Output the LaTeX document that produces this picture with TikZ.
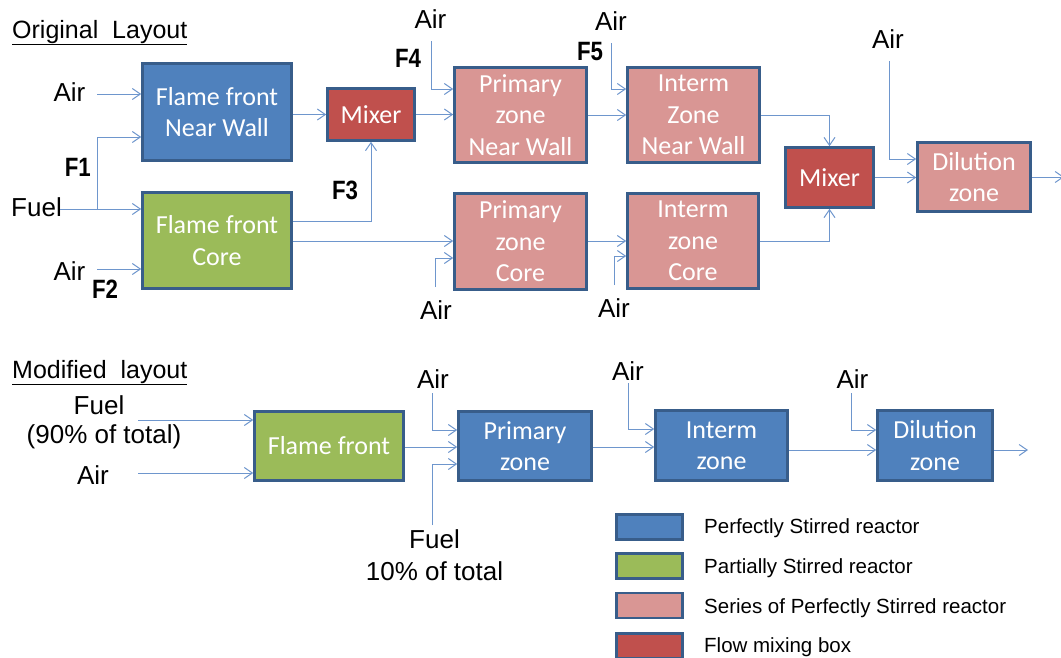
\documentclass[tikz,border=0pt]{standalone}
\usepackage{fontspec}
\usepackage{graphicx}
\setmainfont{Liberation Sans}
\newfontfamily\boxfont{Carlito}
\usetikzlibrary{arrows.meta}
\definecolor{psr}{RGB}{79,129,189}
\definecolor{pasr}{RGB}{155,187,89}
\definecolor{spsr}{RGB}{217,150,148}
\definecolor{mixc}{RGB}{192,80,77}
\definecolor{edgec}{RGB}{56,93,138}
\definecolor{flowc}{RGB}{110,150,205}
\newcommand{\fl}[1]{\scalebox{0.84}[1]{#1}}
\begin{document}
\begin{tikzpicture}[x=1pt,y=-1pt,
  box/.style={draw=edgec,line width=2.6pt,text=white,align=center,inner sep=0pt,
    font=\boxfont\fontsize{26}{31.5}\selectfont},
  flow/.style={draw=flowc,line width=1pt,-{Straight Barb[length=8pt,width=11pt]}},
  lab/.style={font=\fontsize{26}{31}\selectfont,inner sep=0pt},
  flab/.style={font=\bfseries\fontsize{26.5}{30}\selectfont,inner sep=0pt},
  ttl/.style={font=\fontsize{25}{30}\selectfont,inner sep=0pt,anchor=base west},
  leg/.style={font=\fontsize{20.5}{24}\selectfont,anchor=base west,inner sep=0pt},
  legbox/.style={draw=edgec,line width=2.6pt,minimum width=66pt,minimum height=25pt,inner sep=0pt}]
\useasboundingbox[fill=white] (0,0) rectangle (1061,657);

% ---------------- Original layout ----------------
\node[ttl] (t1) at (12,38) {\underline{Original\ \ Layout}};

\node[box,fill=psr,minimum width=149pt,minimum height=97pt] (ffnw) at (217,112) {Flame front\\Near Wall};
\node[box,fill=mixc,minimum width=87pt,minimum height=52pt] (mix1) at (371,114.5) {Mixer};
\node[box,fill=pasr,minimum width=149pt,minimum height=96pt] (ffc) at (217,240.5) {Flame front\\Core};
\node[box,fill=spsr,minimum width=132pt,minimum height=95pt] (pznw) at (520.5,115) {Primary\\zone\\Near Wall};
\node[box,fill=spsr,minimum width=132pt,minimum height=95pt] (iznw) at (693.5,115) {Interm\\Zone\\Near Wall};
\node[box,fill=spsr,minimum width=132pt,minimum height=96pt] (pzc) at (520.5,241.5) {Primary\\zone\\Core};
\node[box,fill=spsr,minimum width=131pt,minimum height=95pt] (izc) at (693,241) {Interm\\zone\\Core};
\node[box,fill=mixc,minimum width=88pt,minimum height=60pt] (mix2) at (829.5,177.5) {Mixer};
\node[box,fill=spsr,minimum width=113pt,minimum height=69pt] (dil1) at (974,177) {Dilution\\zone};

\node[lab] (air1) at (69.5,92.5) {Air};
\node[lab] (fuel1) at (36.5,207) {Fuel};
\node[flab] (F1) at (77.8,167) {\fl{F1}};
\node[lab] (air2) at (69.5,271) {Air};
\node[flab] (F2) at (105,289) {\fl{F2}};
\node[flab] (F3) at (345,190) {\fl{F3}};
\node[flab] (F4) at (408,58) {\fl{F4}};
\node[lab] (air4) at (430.5,19.5) {Air};
\node[flab] (F5) at (590,52) {\fl{F5}};
\node[lab] (air5) at (611,21) {Air};
\node[lab] (air8) at (888,39) {Air};
\node[lab] (air6) at (436,310) {Air};
\node[lab] (air7) at (614,308) {Air};

\coordinate (a1) at (97,94);
\coordinate (f1) at (60,209);
\coordinate (br) at (97,209);
\coordinate (a2) at (97,269);
\coordinate (a4) at (431,41);
\coordinate (a5) at (611,43);
\coordinate (a6) at (435,287);
\coordinate (a7) at (614,285);
\coordinate (a8) at (889,61);
\coordinate (o1) at (1064,177);

\draw[flow] (a1) -- (a1 -| ffnw.west);
\draw[flow] (f1) -- (f1 -| ffc.west);
\draw[flow] (br) |- (ffnw.west |- 0,137);
\draw[flow] (a2) -- (a2 -| ffc.west);
\draw[flow] (ffc.east |- 0,221) -| (mix1.south);
\draw[flow] (ffnw.east |- mix1.west) -- (mix1.west);
\draw[flow] (mix1.east) -- (mix1.east -| pznw.west);
\draw[flow] (ffc.east |- 0,241) -- (pzc.west |- 0,241);
\draw[flow] (a4) |- (pznw.west |- 0,89);
\draw[flow] (pznw.east) -- (iznw.west);
\draw[flow] (a5) |- (iznw.west |- 0,89);
\draw[flow] (iznw.east) -| (mix2.north);
\draw[flow] (izc.east) -| (mix2.south);
\draw[flow] (pzc.east |- 0,241) -- (izc.west |- 0,241);
\draw[flow] (a6) |- (pzc.west |- 0,258);
\draw[flow] (a7) |- (izc.west |- 0,256);
\draw[flow] (mix2.east) -- (mix2.east -| dil1.west);
\draw[flow] (a8) |- (dil1.west |- 0,159);
\draw[flow] (dil1.east) -- (o1);

% ---------------- Modified layout ----------------
\node[ttl] (t2) at (12,378) {\underline{Modified\ \ layout}};

\node[box,fill=pasr,minimum width=149pt,minimum height=69pt] (ff2) at (329,446) {Flame front};
\node[box,fill=psr,minimum width=133pt,minimum height=69pt] (pz2) at (525,446) {Primary\\zone};
\node[box,fill=psr,minimum width=132pt,minimum height=70pt] (iz2) at (721.5,445.5) {Interm\\zone};
\node[box,fill=psr,minimum width=115pt,minimum height=70pt] (dz2) at (935,445.5) {Dilution\\zone};

\node[lab] (fuel2) at (99,405) {Fuel};
\node[lab] (pct90) at (104,437) {(90\% of total)};
\node[lab] (air9) at (93,475.5) {Air};
\node[lab] (air10) at (433,379) {Air};
\node[lab] (fuel3) at (434.5,539) {Fuel};
\node[lab] (pct10) at (434.5,571) {10\% of total};
\node[lab] (air11) at (628,371) {Air};
\node[lab] (air12) at (852.5,379) {Air};

\coordinate (f2) at (138,420);
\coordinate (a9) at (138,473);
\coordinate (a10) at (432,393);
\coordinate (f3) at (432,525);
\coordinate (a11) at (628,383);
\coordinate (a12) at (851,393);
\coordinate (o2) at (1028,450);

\draw[flow] (f2) -- (f2 -| ff2.west);
\draw[flow] (a9) -- (a9 -| ff2.west);
\draw[flow] (ff2.east |- 0,447) -- (pz2.west |- 0,447);
\draw[flow] (a10) |- (pz2.west |- 0,430);
\draw[flow] (f3) |- (pz2.west |- 0,464);
\draw[flow] (pz2.east |- 0,447) -- (iz2.west |- 0,447);
\draw[flow] (a11) |- (iz2.west |- 0,429);
\draw[flow] (iz2.east |- 0,450) -- (dz2.west |- 0,450);
\draw[flow] (a12) |- (dz2.west |- 0,430);
\draw[flow] (dz2.east |- 0,450) -- (o2);

% ---------------- Legend ----------------
\node[legbox,fill=psr] (lg1) at (649.5,527) {};
\node[legbox,fill=pasr] (lg2) at (649.5,566) {};
\node[legbox,fill=spsr] (lg3) at (649.5,605.5) {};
\node[legbox,fill=mixc] (lg4) at (649.5,646) {};
\node[leg] (lt1) at (704,533) {Perfectly Stirred reactor};
\node[leg] (lt2) at (704,573) {Partially Stirred reactor};
\node[leg] (lt3) at (704,613) {Series of Perfectly Stirred reactor};
\node[leg] (lt4) at (704,652) {Flow mixing box};
\end{tikzpicture}
\end{document}
